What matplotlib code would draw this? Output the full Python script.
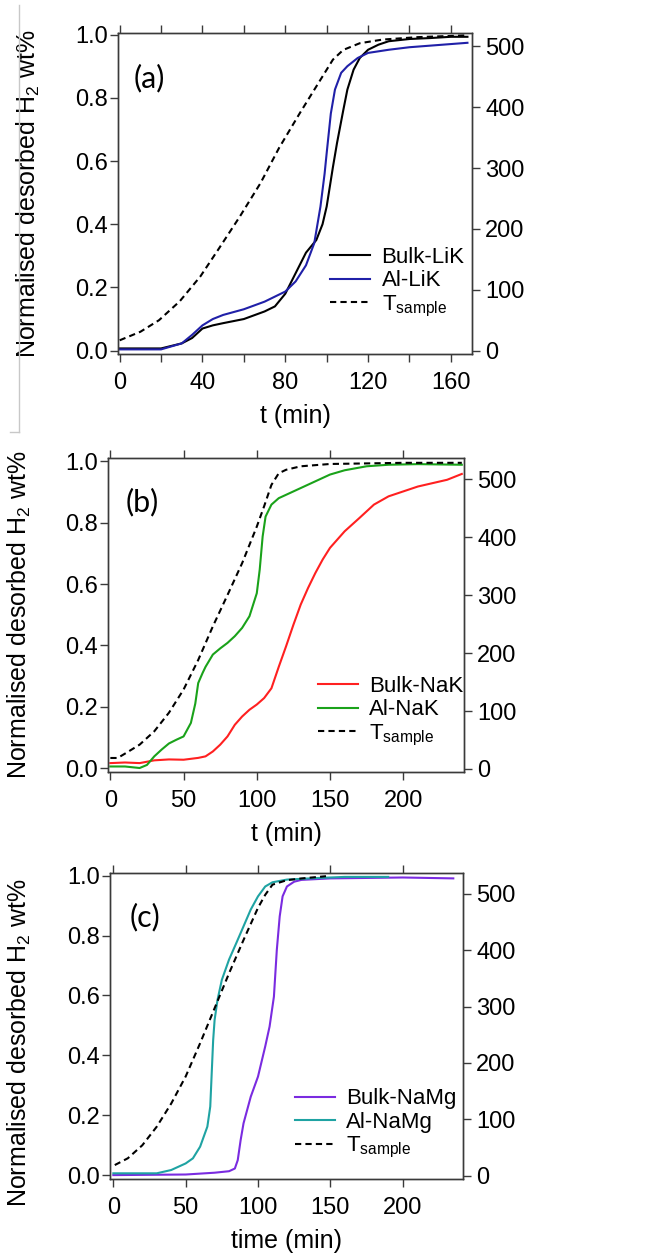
import numpy as np
import matplotlib
matplotlib.use("Agg")
import matplotlib.pyplot as plt
from matplotlib.ticker import MultipleLocator
from matplotlib.lines import Line2D

plt.rcParams["font.family"] = ["Liberation Sans", "DejaVu Sans"]
plt.rcParams["mathtext.default"] = "regular"

# ---- panel (a): LiK ----
a_t_T = [0, 10, 19, 29, 39, 48, 58, 68, 77, 87, 97, 103, 108, 116, 127, 144, 168]
a_T = [17, 31, 50, 81, 122, 168, 220, 275, 333, 390, 445, 478, 494, 505, 511, 515, 518]
a_t_bulk = [0, 20, 30, 35, 40, 45, 50, 60, 70, 75, 80, 85, 90, 95, 98, 100, 103,
            105, 108, 110, 113, 116, 120, 125, 130, 140, 150, 160, 168]
a_bulk = [0.007, 0.007, 0.023, 0.04, 0.07, 0.08, 0.087, 0.10, 0.124, 0.14, 0.18,
          0.245, 0.31, 0.35, 0.40, 0.456, 0.58, 0.657, 0.76, 0.826, 0.889, 0.926,
          0.952, 0.968, 0.979, 0.986, 0.989, 0.993, 0.993]
a_t_al = [0, 20, 30, 35, 40, 45, 50, 60, 70, 80, 85, 90, 94, 97, 99, 100, 102,
          104, 107, 110, 115, 120, 130, 140, 150, 160, 168]
a_al = [0.004, 0.004, 0.023, 0.05, 0.08, 0.10, 0.113, 0.131, 0.155, 0.187, 0.219,
        0.27, 0.34, 0.456, 0.56, 0.625, 0.75, 0.826, 0.879, 0.90, 0.926, 0.942,
        0.952, 0.96, 0.965, 0.97, 0.974]

# ---- panel (b): NaK ----
b_t_T = [0, 5, 11, 20, 30, 40, 50, 60, 70, 80, 90, 100, 105, 110, 115, 120, 130, 150, 200, 240]
b_T = [19, 19, 28, 42, 65, 97, 137, 188, 246, 300, 355, 418, 453, 490, 510, 516, 522, 526, 528, 528]
b_t_bulk = [0, 10, 20, 30, 40, 50, 60, 65, 70, 75, 80, 85, 90, 95, 100, 105, 110,
            115, 120, 125, 130, 135, 140, 145, 150, 160, 170, 180, 190, 200, 210,
            220, 230, 240]
b_bulk = [0.016, 0.018, 0.016, 0.025, 0.028, 0.027, 0.033, 0.038, 0.054, 0.076,
          0.103, 0.141, 0.168, 0.19, 0.207, 0.228, 0.26, 0.33, 0.397, 0.467, 0.533,
          0.587, 0.636, 0.68, 0.718, 0.772, 0.815, 0.859, 0.886, 0.902, 0.918,
          0.929, 0.94, 0.959]
b_t_al = [0, 10, 20, 25, 30, 35, 40, 45, 50, 55, 58, 60, 63, 65, 70, 75, 80, 85,
          90, 95, 100, 102, 104, 106, 110, 115, 120, 130, 140, 150, 160, 175, 190,
          210, 240]
b_al = [0.005, 0.005, 0.0, 0.01, 0.038, 0.06, 0.08, 0.092, 0.103, 0.147, 0.21,
        0.277, 0.31, 0.33, 0.37, 0.39, 0.408, 0.43, 0.457, 0.495, 0.57, 0.647,
        0.755, 0.82, 0.859, 0.88, 0.891, 0.913, 0.935, 0.957, 0.971, 0.984, 0.989,
        0.991, 0.989]

# ---- panel (c): NaMg ----
c_t_T = [1, 10, 20, 30, 40, 50, 60, 70, 80, 90, 100, 105, 110, 120, 130, 147]
c_T = [19, 31, 54, 87, 128, 176, 235, 297, 359, 418, 475, 498, 516, 524, 527, 531]
c_t_bulk = [0, 50, 70, 80, 84, 86, 88, 90, 95, 100, 105, 108, 111, 113, 115, 117,
            120, 125, 130, 150, 200, 235]
c_bulk = [0.0, 0.002, 0.008, 0.013, 0.022, 0.05, 0.117, 0.173, 0.262, 0.329, 0.43,
          0.496, 0.596, 0.752, 0.864, 0.931, 0.964, 0.98, 0.986, 0.991, 0.994, 0.991]
c_t_al = [0, 30, 40, 50, 55, 60, 65, 67, 68, 69, 70, 72, 75, 80, 85, 90, 95, 100,
          105, 110, 120, 140, 160, 190]
c_al = [0.006, 0.006, 0.017, 0.039, 0.056, 0.095, 0.162, 0.229, 0.34, 0.45, 0.518,
        0.585, 0.652, 0.72, 0.775, 0.831, 0.887, 0.931, 0.964, 0.978, 0.987, 0.992,
        0.996, 0.996]

FS = 17
SPINE = "#3a3a3a"

panels = [
    dict(rect=(118, 33, 472, 354), tag="(a)", xlab="t (min)",
         xlim=(-0.8, 170.2), ylim=(-0.0106, 1.005), r=(0.0, 519.2),
         xmajor=40, xminor=20, tag_xy=(0.045, 0.86), ylab_xy=(-0.215, 0.5),
         series=[(a_t_bulk, a_bulk, "black", "Bulk-LiK"),
                 (a_t_al, a_al, "#2020a8", "Al-LiK")],
         T=(a_t_T, a_T), leg=(0.60, 0.11)),
    dict(rect=(108, 458, 464, 772), tag="(b)", xlab="t (min)",
         xlim=(-1.6, 241.5), ylim=(-0.013, 1.011), r=(1.7, 528.8),
         xmajor=50, xminor=None, tag_xy=(0.05, 0.86), ylab_xy=(-0.211, 0.5),
         series=[(b_t_bulk, b_bulk, "#ff2020", "Bulk-NaK"),
                 (b_t_al, b_al, "#1aa21a", "Al-NaK")],
         T=(b_t_T, b_T), leg=(0.59, 0.077)),
    dict(rect=(110, 873, 463, 1179), tag="(c)", xlab="time (min)",
         xlim=(-2.3, 241.7), ylim=(-0.013, 1.009), r=(1.2, 530.7),
         xmajor=50, xminor=None, tag_xy=(0.055, 0.855), ylab_xy=(-0.218, 0.445),
         series=[(c_t_bulk, c_bulk, "#7a2be0", "Bulk-NaMg"),
                 (c_t_al, c_al, "#1fa3a3", "Al-NaMg")],
         T=(c_t_T, c_T), leg=(0.524, 0.062)),
]

W, H = 654, 1257
fig = plt.figure(figsize=(W / 100, H / 100), dpi=100)

for p in panels:
    x0, y0, x1, y1 = p["rect"]
    ax = fig.add_axes([x0 / W, 1 - y1 / H, (x1 - x0) / W, (y1 - y0) / H])
    ax2 = ax.twinx()
    lines = []
    for t, v, c, lab in p["series"]:
        ln, = ax.plot(t, v, color=c, lw=1.5, label=lab)
        lines.append(ln)
    rmin, rscale = p["r"]
    ylo, yhi = p["ylim"]
    ax2.set_ylim(rmin + ylo * rscale, rmin + yhi * rscale)
    lt, = ax2.plot(p["T"][0], p["T"][1], color="black", lw=1.5,
                   ls=(0, (3, 2)), label="T$_{sample}$")
    lines.append(lt)
    ax.set_xlim(*p["xlim"])
    ax.set_ylim(ylo, yhi)
    ax.xaxis.set_major_locator(MultipleLocator(p["xmajor"]))
    if p["xminor"]:
        ax.xaxis.set_minor_locator(MultipleLocator(p["xminor"]))
    ax.yaxis.set_major_locator(MultipleLocator(0.2))
    ax.yaxis.set_major_formatter(plt.FuncFormatter(lambda v, _: f"{v:.1f}"))
    ax2.yaxis.set_major_locator(MultipleLocator(100))
    ax.tick_params(which="both", direction="out", length=6, width=1,
                   color=SPINE, labelsize=FS, top=True, labeltop=False)
    ax.tick_params(axis="x", which="both", pad=7)
    ax.tick_params(axis="y", pad=1)
    ax2.tick_params(direction="out", length=6, width=1, color=SPINE,
                    labelsize=FS, pad=3.5)
    for a in (ax, ax2):
        for s in a.spines.values():
            s.set_color(SPINE)
            s.set_linewidth(1.0)
    ax.set_xlabel(p["xlab"], fontsize=FS + 1, labelpad=7)
    ax.set_ylabel("Normalised desorbed H$_2$ wt%", fontsize=18)
    ax.yaxis.set_label_coords(*p["ylab_xy"])
    ax.text(p["tag_xy"][0], p["tag_xy"][1], p["tag"], transform=ax.transAxes,
            fontsize=22, family=["Lato", "DejaVu Sans"], va="center")
    ax2.legend(handles=lines, loc="lower left", bbox_to_anchor=p["leg"],
               frameon=False, fontsize=16, handlelength=1.8,
               handletextpad=0.5, labelspacing=0.1, borderaxespad=0,
               borderpad=0)

# thin grey border artifact at left of the top panel
fig.add_artist(Line2D([19 / W, 19 / W], [1 - 5 / H, 1 - 432 / H],
                      color="#c8c8c8", lw=1))
fig.add_artist(Line2D([10 / W, 19 / W], [1 - 432 / H, 1 - 432 / H],
                      color="#c8c8c8", lw=1))

fig.savefig("out.png", dpi=100)
